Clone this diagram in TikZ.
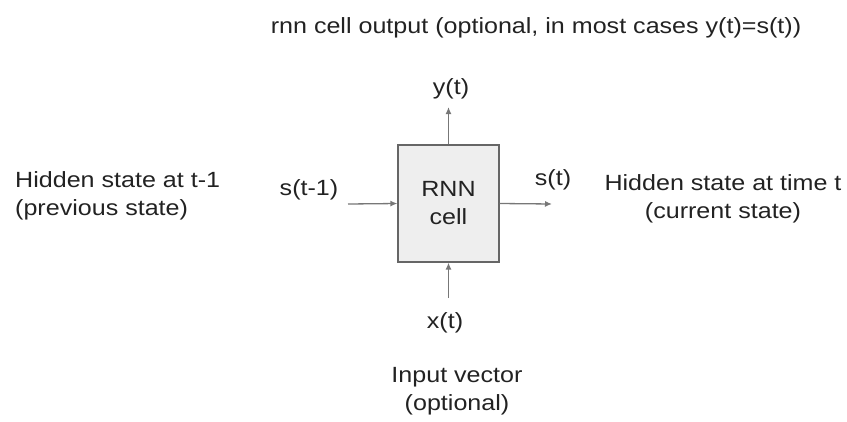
\documentclass[tikz,border=0pt]{standalone}
\usepackage{fontspec}
\setmainfont{Liberation Sans}[FakeStretch=1.14]
\usetikzlibrary{arrows.meta}
\definecolor{rnntext}{HTML}{222222}
\definecolor{rnnfill}{HTML}{EEEEEE}
\definecolor{rnnborder}{HTML}{666666}
\definecolor{rnnarrow}{HTML}{777777}
\tikzset{
  cellbox/.style={
    draw=rnnborder,
    fill=rnnfill,
    line width=1.2pt,
    minimum width=101pt,
    minimum height=117pt,
    align=center,
    font=\fontsize{22}{28}\selectfont,
    text=rnntext,
    inner sep=0pt
  },
  signal/.style={
    anchor=base,
    inner sep=0pt,
    font=\fontsize{22}{28}\selectfont,
    text=rnntext
  },
  note/.style={signal, align=center},
  flow/.style={-{Latex[length=7pt,width=6pt]}, line width=1.3pt, draw=rnnarrow}
}

\begin{document}
\begin{tikzpicture}[x=1pt,y=-1pt]
\useasboundingbox (0,0) rectangle (847,421);

\node[cellbox] (cell) at (448.5,203.5) {RNN\\cell};

\coordinate (prevend) at (348,204);
\coordinate (nextend) at (552,204);
\coordinate (outend) at (448.5,107);
\coordinate (inend) at (448.5,298);

\draw[flow] (prevend) -- (cell.west);
\draw[flow] (cell.east) -- (nextend);
\draw[flow] (cell.north) -- (outend);
\draw[flow] (inend) -- (cell.south);

\node[signal] (prev) at (309,195) {s(t-1)};
\node[signal] (next) at (553,185) {s(t)};
\node[signal] (out) at (451,94) {y(t)};
\node[signal] (in) at (445,328) {x(t)};

% two-line notes: base is the last line
\node[signal] (outnote) at (536,33) {rnn cell output (optional, in most cases y(t)=s(t))};
\node[note, align=left, anchor=base west] (prevnote) at (15,215) {Hidden state at t-1\\(previous state)};
\node[note] (nextnote) at (723,218) {Hidden state at time t\\(current state)};
\node[note] (innote) at (457,410) {Input vector\\(optional)};

\end{tikzpicture}
\end{document}
